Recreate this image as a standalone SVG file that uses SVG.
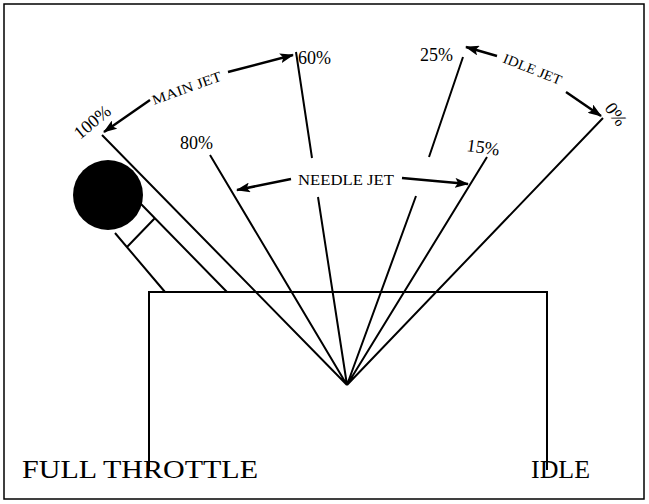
<svg xmlns="http://www.w3.org/2000/svg" width="649" height="504" viewBox="0 0 649 504">
<defs>
<marker id="ah" markerWidth="14" markerHeight="10" refX="13" refY="5" orient="auto" markerUnits="userSpaceOnUse"><path d="M0,0 L14,5 L0,10 L3,5 Z" fill="#000"/></marker>
</defs>
<style>
.l{stroke:#000;stroke-width:2;fill:none}
.a{stroke:#000;stroke-width:2.5;fill:none;marker-end:url(#ah)}
.t{font-family:"Liberation Serif",serif;fill:#000}
</style>
<rect x="4" y="4" width="640" height="495" fill="#fff" stroke="#000" stroke-width="1.5"/>
<g id="box"><path class="l" d="M149,470 V292 H547 V470"/></g>
<g id="lever">
<path class="l" d="M140,203 L227,292 M115,233 L165,292 M127,247 L155,218"/>
<circle cx="108" cy="195" r="35" fill="#000"/>
</g>
<g id="connectors">
<path class="l" d="M102,135 L347,385 M210,155 L347,385 M296,52 L312,158 M318,197 L347,385 M463,57 L429,157 M416,196 L347,385 M487,157 L347,385 M603,118 L347,385"/>
<path class="a" d="M150,100 L104,132"/>
<path class="a" d="M228,72 L293,55"/>
<path class="a" d="M291,179 L237,190"/>
<path class="a" d="M402,178 L468,184"/>
<path class="a" d="M497,56 L466,47"/>
<path class="a" d="M566,92 L601,116"/>
</g>
<g id="labels" class="t">
<text transform="translate(80,140) rotate(-40)" font-size="18">100%</text>
<text x="298" y="64" font-size="18">60%</text>
<text x="180" y="149" font-size="18">80%</text>
<text x="420" y="61" font-size="18">25%</text>
<text transform="translate(466,151) rotate(8)" font-size="18">15%</text>
<text transform="translate(604,108) rotate(55)" font-size="18">0%</text>
<text transform="translate(154,105) rotate(-20)" font-size="14" textLength="73" lengthAdjust="spacingAndGlyphs">MAIN JET</text>
<text x="298" y="185" font-size="14" textLength="96" lengthAdjust="spacingAndGlyphs">NEEDLE JET</text>
<text transform="translate(502,62) rotate(22)" font-size="14" textLength="62" lengthAdjust="spacingAndGlyphs">IDLE JET</text>
<text x="22" y="478" font-size="25" textLength="236" lengthAdjust="spacingAndGlyphs">FULL THROTTLE</text>
<text x="531" y="478" font-size="25" textLength="59" lengthAdjust="spacingAndGlyphs">IDLE</text>
</g>
</svg>
